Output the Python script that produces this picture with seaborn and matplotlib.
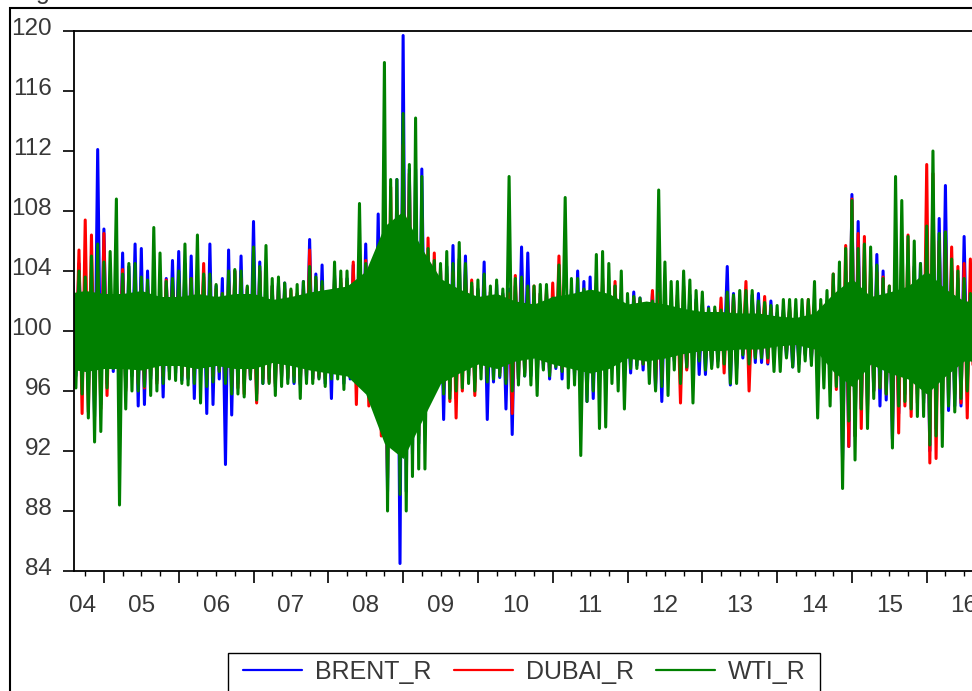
import numpy as np
import pandas as pd
import matplotlib
matplotlib.use("Agg")
import matplotlib.pyplot as plt
import matplotlib.transforms as mtransforms
from matplotlib.lines import Line2D
from matplotlib.patches import Rectangle
import seaborn as sns

# ---------------- data (monthly extremes) ----------------
series_names = ["BRENT_R", "DUBAI_R", "WTI_R"]
series_colors = ["#0000FF", "#FF0000", "#008000"]
start_year, start_month = 2004, 8
year_labels = ["04", "05", "06", "07", "08", "09", "10", "11", "12", "13", "14", "15", "16"]

wti_hi = [103.0, 104.0, 103.6, 105.0, 105.8, 104.6, 105.3, 108.8, 103.8, 104.5,
          104.5, 103.6, 103.4, 106.9, 105.2, 103.3, 103.5, 104.0, 105.8, 103.5,
          106.4, 103.8, 103.8, 103.1, 102.5, 104.0, 104.1, 104.0, 103.0, 105.6,
          104.3, 105.7, 103.5, 103.6, 103.2, 102.8, 103.1, 103.3, 104.3, 103.6,
          103.3, 102.6, 104.6, 104.0, 104.0, 103.0, 108.5, 104.5, 103.7, 104.2,
          117.9, 110.1, 110.1, 114.5, 111.1, 114.2, 110.3, 105.5, 104.7, 104.5,
          105.3, 104.5, 105.9, 104.5, 103.2, 103.4, 103.8, 103.0, 103.4, 102.8,
          110.3, 103.5, 103.6, 103.0, 103.0, 103.1, 103.1, 102.2, 104.4, 108.9,
          103.5, 103.5, 102.8, 102.5, 105.1, 105.3, 104.5, 103.0, 104.0, 102.5,
          102.3, 102.2, 101.8, 102.0, 109.4, 104.6, 103.3, 103.3, 104.0, 103.4,
          102.7, 102.6, 101.5, 101.6, 101.4, 102.6, 102.4, 102.7, 102.7, 102.7,
          102.0, 101.9, 101.7, 101.7, 102.1, 102.1, 102.1, 102.1, 102.1, 103.3,
          102.1, 102.7, 103.8, 104.6, 105.5, 108.7, 105.5, 105.8, 105.6, 104.4,
          103.5, 103.0, 110.3, 108.7, 106.3, 106.0, 104.5, 107.0, 112.0, 106.5,
          106.6, 104.8, 104.0, 103.5, 102.5, 103.0]
wti_lo = [96.2, 95.8, 94.2, 92.6, 93.3, 96.2, 97.5, 88.4, 94.8, 96.0,
          96.0, 96.3, 95.7, 96.0, 96.5, 96.8, 96.7, 96.5, 96.4, 96.5,
          95.2, 96.3, 96.6, 97.3, 96.5, 95.8, 95.8, 95.6, 96.8, 95.4,
          96.5, 96.5, 95.7, 96.3, 96.5, 96.6, 95.5, 96.5, 96.5, 96.8,
          96.3, 96.8, 96.8, 96.1, 97.0, 96.8, 96.5, 95.7, 95.5, 94.2,
          88.0, 92.3, 89.1, 88.0, 90.3, 90.8, 90.8, 97.0, 97.0, 95.8,
          95.5, 96.0, 96.2, 96.5, 96.0, 96.8, 96.6, 96.8, 97.0, 96.5,
          96.0, 96.4, 97.0, 96.4, 95.7, 97.4, 97.0, 97.6, 97.3, 96.2,
          96.4, 91.7, 95.3, 96.0, 93.5, 93.6, 96.5, 96.0, 94.8, 97.5,
          97.5, 97.8, 96.5, 96.0, 96.3, 95.7, 97.4, 96.5, 97.6, 95.2,
          98.0, 97.4, 97.5, 97.6, 97.8, 96.5, 96.5, 98.4, 97.8, 98.2,
          98.2, 98.2, 97.3, 97.3, 98.2, 97.6, 97.3, 98.0, 97.7, 94.2,
          96.2, 95.0, 96.3, 89.5, 94.0, 91.4, 94.8, 93.5, 95.5, 96.2,
          95.8, 92.2, 95.0, 95.3, 94.8, 94.3, 94.3, 92.4, 93.0, 92.3,
          95.0, 94.6, 95.5, 96.0, 97.2, 97.0]

brent_hi = [103.4, 104.5, 103.0, 103.0, 112.1, 106.8, 103.2, 103.5, 105.2, 104.3,
            105.8, 105.5, 104.0, 103.0, 103.5, 103.5, 104.7, 105.3, 104.5, 105.0,
            103.5, 103.6, 105.8, 103.0, 103.5, 105.4, 104.0, 105.0, 102.8, 107.3,
            104.6, 103.5, 103.0, 103.2, 103.2, 102.1, 102.4, 103.3, 106.1, 103.8,
            104.4, 102.2, 103.7, 103.2, 103.5, 104.4, 103.8, 105.8, 103.3, 107.8,
            104.3, 107.0, 110.1, 119.7, 110.8, 110.8, 110.8, 105.0, 104.5, 104.0,
            104.3, 105.7, 104.8, 105.0, 103.0, 102.8, 104.6, 102.6, 103.1, 102.5,
            102.8, 103.0, 105.6, 105.2, 102.5, 102.5, 102.5, 102.3, 102.5, 102.2,
            102.8, 104.0, 103.3, 103.6, 103.0, 103.1, 102.8, 103.0, 102.5, 101.4,
            102.6, 102.2, 101.6, 102.5, 102.7, 102.6, 102.0, 102.0, 101.4, 102.4,
            102.1, 101.7, 101.6, 101.3, 101.2, 104.3, 102.5, 101.8, 102.0, 102.4,
            102.5, 101.7, 102.0, 101.2, 101.4, 101.4, 101.2, 101.2, 101.2, 101.5,
            101.5, 101.8, 102.5, 102.5, 104.0, 109.1, 107.3, 104.3, 103.5, 105.1,
            104.0, 102.8, 104.0, 104.5, 104.0, 104.3, 104.5, 104.0, 109.1, 107.5,
            109.7, 104.0, 103.5, 106.3, 102.8, 104.0]
brent_lo = [97.0, 97.0, 96.0, 94.3, 95.1, 96.5, 97.3, 96.5, 96.2, 97.0,
            95.0, 95.1, 96.8, 96.7, 95.6, 97.3, 97.2, 96.7, 96.8, 95.5,
            97.0, 94.5, 95.1, 96.8, 91.1, 94.4, 96.5, 96.5, 96.8, 95.8,
            96.5, 96.8, 96.5, 96.9, 96.8, 96.5, 96.4, 96.7, 96.8, 96.9,
            96.5, 95.5, 97.2, 96.5, 96.8, 96.5, 96.6, 96.5, 95.8, 95.2,
            89.3, 92.8, 84.5, 89.3, 91.8, 92.5, 96.0, 96.5, 97.2, 94.1,
            96.0, 95.5, 97.0, 97.0, 96.6, 97.5, 94.1, 96.6, 96.9, 94.8,
            93.1, 96.8, 97.0, 97.0, 96.8, 97.5, 96.8, 97.5, 96.8, 97.8,
            97.0, 96.3, 95.3, 95.5, 96.5, 96.3, 97.7, 97.5, 97.6, 97.2,
            97.7, 97.4, 98.0, 96.1, 95.3, 97.7, 98.0, 97.3, 97.5, 97.4,
            97.1, 97.1, 97.7, 98.0, 98.2, 96.4, 97.5, 98.2, 97.6, 97.9,
            97.9, 97.8, 98.2, 98.4, 98.3, 97.6, 97.8, 98.4, 98.1, 98.3,
            98.0, 97.5, 97.2, 91.4, 92.3, 93.0, 94.8, 95.0, 96.0, 95.0,
            95.4, 92.8, 94.5, 95.8, 96.0, 95.8, 95.2, 92.0, 93.5, 95.0,
            94.7, 95.0, 95.0, 96.5, 97.5, 97.5]

dubai_hi = [102.8, 105.4, 107.4, 106.4, 104.0, 106.5, 103.5, 103.2, 104.1, 103.0,
            103.5, 103.0, 103.0, 102.8, 103.0, 103.4, 103.0, 103.2, 103.8, 103.5,
            102.5, 104.5, 103.2, 102.8, 102.5, 103.3, 104.0, 103.5, 102.9, 103.0,
            104.0, 103.2, 103.0, 103.0, 102.8, 102.7, 102.5, 102.8, 105.4, 103.4,
            103.0, 102.3, 103.5, 103.5, 103.3, 104.6, 104.0, 104.7, 103.5, 104.0,
            105.6, 109.6, 108.0, 112.4, 110.5, 108.5, 107.5, 106.2, 105.2, 104.2,
            103.8, 103.9, 103.6, 103.8, 103.4, 102.7, 103.0, 102.6, 102.5, 102.4,
            102.5, 103.7, 103.5, 102.8, 103.0, 102.5, 102.8, 103.2, 105.0, 102.0,
            102.5, 102.6, 102.5, 102.3, 103.2, 103.5, 102.2, 103.3, 102.0, 101.6,
            102.2, 102.0, 101.5, 102.7, 102.5, 102.3, 102.0, 102.4, 103.0, 101.9,
            101.9, 101.8, 101.2, 101.4, 102.2, 102.4, 102.3, 101.6, 103.3, 101.7,
            101.8, 102.3, 101.5, 101.0, 101.2, 101.6, 101.0, 101.3, 102.1, 101.5,
            101.8, 102.0, 103.8, 102.5, 105.7, 108.8, 106.5, 106.3, 104.3, 103.9,
            103.6, 103.0, 105.0, 105.5, 106.4, 104.0, 103.5, 111.1, 110.5, 106.0,
            106.6, 105.6, 104.3, 104.5, 104.8, 104.4]
dubai_lo = [97.5, 94.5, 94.6, 95.7, 94.8, 95.7, 97.6, 97.2, 96.0, 97.2,
            96.5, 96.2, 97.0, 96.5, 97.0, 97.5, 97.5, 97.0, 96.9, 97.0,
            97.8, 96.8, 97.0, 97.4, 96.9, 96.3, 96.2, 95.8, 97.0, 95.2,
            96.8, 96.6, 96.3, 97.0, 96.9, 97.0, 96.5, 97.0, 96.8, 97.0,
            96.8, 97.0, 97.4, 97.0, 97.0, 95.1, 96.5, 95.0, 95.2, 93.0,
            90.2, 93.0, 92.0, 92.1, 93.0, 93.0, 95.0, 96.5, 96.9, 96.2,
            95.3, 94.2, 96.0, 97.0, 95.7, 97.6, 97.0, 97.4, 97.2, 96.8,
            94.5, 96.8, 97.2, 97.4, 96.9, 97.8, 97.2, 97.8, 97.5, 98.0,
            97.2, 97.0, 96.8, 97.0, 96.7, 96.6, 97.9, 97.5, 97.7, 98.0,
            98.0, 97.8, 98.1, 96.5, 96.8, 97.7, 98.2, 95.2, 97.4, 98.0,
            98.2, 98.1, 98.0, 98.2, 97.2, 97.5, 97.8, 98.5, 96.0, 98.3,
            98.4, 97.9, 98.4, 98.6, 98.6, 98.3, 98.4, 98.5, 98.3, 98.5,
            98.0, 97.8, 96.1, 96.1, 92.3, 93.0, 93.5, 94.5, 96.0, 96.2,
            95.8, 94.0, 93.2, 95.0, 94.3, 95.2, 95.5, 91.2, 91.5, 94.5,
            95.5, 95.8, 95.2, 94.2, 96.5, 97.0]

# solid green core of the WTI band, read per quarter (2004Q3 ... 2016Q4)
wti_core_hi = [102.5, 102.7, 102.5, 102.5, 102.7, 102.3, 102.3, 102.5, 102.3, 102.5,
               102.5, 102.1, 102.3, 102.6, 102.8, 103.0, 104.0, 107.0, 108.0, 105.5,
               103.5, 102.8, 102.3, 102.5, 102.0, 101.8, 102.3, 102.5, 102.8, 102.5,
               101.8, 102.0, 101.8, 101.5, 101.3, 101.3, 101.2, 101.2, 101.0, 100.9,
               101.2, 102.5, 103.5, 102.3, 102.6, 103.0, 104.0, 102.8, 102.0, 102.0]
wti_core_lo = [97.5, 97.3, 97.5, 97.5, 97.4, 97.7, 97.7, 97.5, 97.7, 97.5,
               97.5, 97.9, 97.7, 97.4, 97.2, 97.0, 95.8, 92.5, 91.5, 94.0,
               96.5, 97.2, 97.8, 97.5, 98.0, 98.2, 97.8, 97.5, 97.2, 97.5,
               98.2, 98.0, 98.2, 98.5, 98.7, 98.7, 98.8, 98.8, 99.0, 99.1,
               98.8, 97.3, 96.3, 97.8, 97.2, 96.8, 95.8, 97.0, 98.0, 98.0]

# ---------------- long-form table ----------------
t0 = start_year + (start_month - 1) / 12.0
rows = []
for name, hi, lo in [("BRENT_R", brent_hi, brent_lo),
                     ("DUBAI_R", dubai_hi, dubai_lo),
                     ("WTI_R", wti_hi, wti_lo)]:
    for i in range(len(hi)):
        rows.append((name, t0 + i / 12.0, hi[i]))
        rows.append((name, t0 + i / 12.0 + 1 / 24.0, lo[i]))
df = pd.DataFrame(rows, columns=["series", "t", "value"])
core_t = 2004.5 + 0.25 * np.arange(len(wti_core_hi))

# ---------------- figure ----------------
sns.set_style("white")
plt.rcParams["font.family"] = ["Liberation Sans", "DejaVu Sans"]
plt.rcParams["path.simplify"] = False
TXT = "#383838"

W, H = 972, 691
fig = plt.figure(figsize=(W / 100, H / 100), dpi=100)
x0, x1 = 2004.6, 2017.0
px_year = 74.8
ax_l, ax_b, ax_top = 74, 571, 31
ax_w = (x1 - x0) * px_year
ax = fig.add_axes([ax_l / W, 1 - ax_b / H, ax_w / W, (ax_b - ax_top) / H])

sns.lineplot(data=df, x="t", y="value", hue="series", hue_order=series_names,
             palette=dict(zip(series_names, series_colors)), estimator=None,
             sort=False, linewidth=2.2, legend=False, ax=ax)
# WTI (last drawn) on top, its solid core just under it
ax.lines[-1].set_zorder(3)
ax.fill_between(core_t, wti_core_lo, wti_core_hi, color=series_colors[2],
                linewidth=0, zorder=2.5)

ax.set_xlim(x0, x1)
ax.set_ylim(84, 120)
ax.set_xlabel("")
ax.set_ylabel("")

for s in ax.spines.values():
    s.set_color("black")
    s.set_linewidth(1.3)
    s.set_zorder(4)

# y ticks
ax.set_yticks(np.arange(84, 121, 4))
ax.set_yticklabels([str(v) for v in range(84, 121, 4)])
ax.tick_params(axis="y", left=True, direction="out", length=8, width=1.2, pad=8,
               labelsize=17.5, labelcolor=TXT, color="black")
up = mtransforms.ScaledTranslation(0, 4 / 100, fig.dpi_scale_trans)
for lbl in ax.get_yticklabels():
    lbl.set_transform(lbl.get_transform() + up)

# x ticks: year boundaries (long) and quarters (short)
years = np.arange(2005, 2018)
ax.set_xticks(years)
ax.set_xticks([q for q in np.arange(2004.75, 2017.0, 0.25) if abs(q - round(q)) > 1e-6], minor=True)
ax.tick_params(axis="x", which="major", bottom=True, direction="out", length=8.5,
               width=1.2, labelbottom=False, color="black")
ax.tick_params(axis="x", which="minor", bottom=True, direction="out", length=3.6,
               width=1.0, labelbottom=False, color="black")

label_pos = [2004.71] + [y + 0.5 for y in range(2005, 2017)]
tr = mtransforms.blended_transform_factory(ax.transData, ax.transAxes) + \
    mtransforms.ScaledTranslation(0, -41 / 100, fig.dpi_scale_trans)
for p, lab in zip(label_pos, year_labels):
    ax.text(p, 0, lab, transform=tr, ha="center", va="baseline",
            fontsize=17.5, color=TXT, clip_on=False)

# legend (box cut by the bottom edge)
handles = [Line2D([0], [0], color=c, lw=1.6) for c in series_colors]
fig.legend(handles, series_names, loc="center left",
           bbox_to_anchor=(243 / W, 1 - 672 / H), frameon=False, ncol=3,
           handlelength=2.36, handletextpad=0.52, columnspacing=0.88,
           fontsize=18, borderpad=0, borderaxespad=0, labelcolor=TXT)
fig.add_artist(Rectangle((228 / W, -0.05), (820 - 228) / W, (1 - 653 / H) + 0.05,
                         transform=fig.transFigure, fill=False, ec="black", lw=1.0))

# outer graph frame
fig.add_artist(Rectangle((10 / W, -0.1), 1.2, (1 - 8 / H) + 0.1,
                         transform=fig.transFigure, fill=False, ec="black", lw=1.5))
fig.text(36 / W, 1 + 1 / H, "g", fontsize=18, color=TXT, ha="left", va="baseline")

fig.savefig("out.png", dpi=100)
